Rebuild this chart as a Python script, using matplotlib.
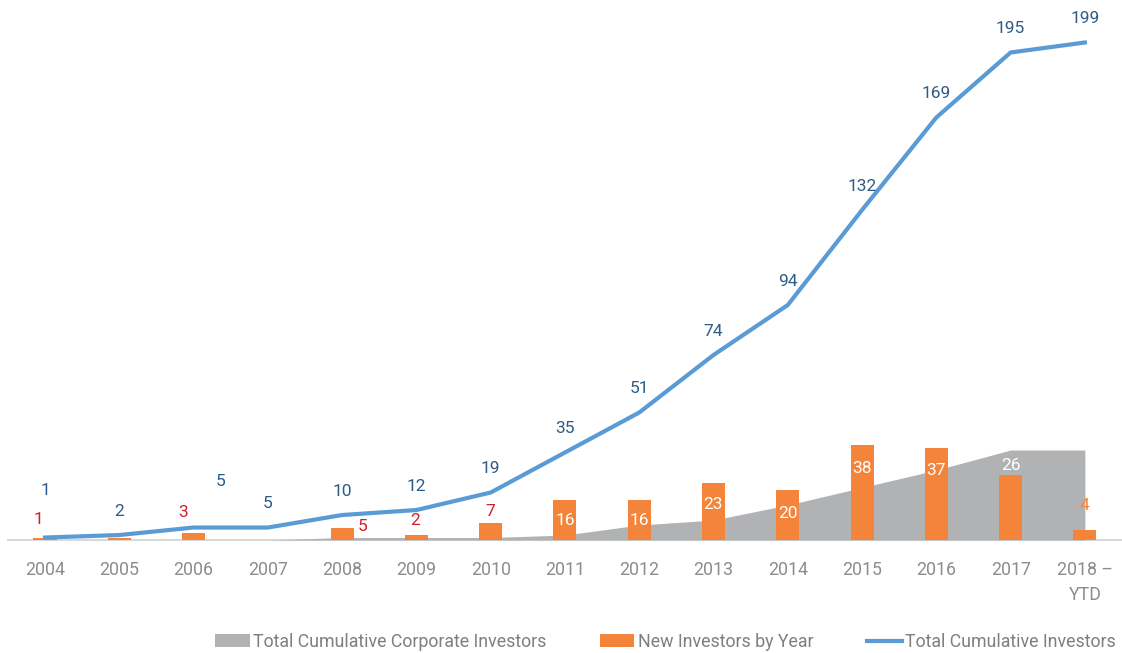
import matplotlib
matplotlib.use("Agg")
import matplotlib.pyplot as plt
from matplotlib.patches import Patch
from matplotlib.lines import Line2D
import numpy as np

plt.rcParams["font.family"] = ["Roboto", "DejaVu Sans"]

years = ["2004", "2005", "2006", "2007", "2008", "2009", "2010", "2011",
         "2012", "2013", "2014", "2015", "2016", "2017", "2018 –\nYTD"]
total_investors = [1, 2, 5, 5, 10, 12, 19, 35, 51, 74, 94, 132, 169, 195, 199]
new_investors = [1, 1, 3, 0, 5, 2, 7, 16, 16, 23, 20, 38, 37, 26, 4]
corporate_investors = [0, 0, 0, 0, 1, 1, 1, 2, 6, 8, 14, 21, 28, 36, 36]

LINE_C = "#5b9bd5"
BAR_C = "#f4843a"
AREA_C = "#b1b2b4"
LABEL_BLUE = "#2e5b85"
LABEL_RED = "#d0202e"
TICK_C = "#8c8c8c"

x = np.arange(len(years))

fig = plt.figure(figsize=(11.22, 6.53), dpi=100)
ax = fig.add_axes([0.007, 0.173, 0.993, 0.827])

ax.fill_between(x, corporate_investors, color=AREA_C, lw=0, zorder=1)
ax.bar(x, new_investors, width=0.31, color=BAR_C, zorder=2)
ax.plot(x, total_investors, color=LINE_C, lw=3, zorder=3,
        solid_joinstyle="miter")

PX = 0.72  # points per pixel at 100 dpi

# line labels sit ~24px above each point, two are moved up out of the way
line_offsets = {0: (0, 47), 2: (27, 46)}
for i, v in enumerate(total_investors):
    dx, dy = line_offsets.get(i, (0, 24))
    ax.annotate(str(v), (i, v), xytext=(dx * PX, dy * PX),
                textcoords="offset points", ha="center", va="center",
                color=LABEL_BLUE, fontsize=12.5, zorder=4)

# bar labels: (dx px, dy px from bar top, colour); None = unlabelled
bar_styles = [
    (-7, 18, LABEL_RED), None, (-10, 20, LABEL_RED), None,
    (20, 1, LABEL_RED), (-1, 15, LABEL_RED), (0, 11, LABEL_RED),
    (0, -20, "white"), (0, -20, "white"), (0, -22, "white"),
    (0, -23, "white"), (0, -23, "white"), (0, -23, "white"),
    (0, 10, "white"), (0, 25, BAR_C),
]
for i, v in enumerate(new_investors):
    st = bar_styles[i]
    if st is None:
        continue
    dx, dy, c = st
    ax.annotate(str(v), (i, v), xytext=(dx * PX, dy * PX),
                textcoords="offset points", ha="center", va="center",
                color=c, fontsize=12.5, zorder=4)

ax.set_xlim(-0.5, len(years) - 0.5)
ax.set_ylim(0, 216)
ax.set_yticks([])
ax.set_xticks(x)
ax.set_xticklabels(years, color=TICK_C, fontsize=12.8, linespacing=1.5)
ax.tick_params(axis="x", length=0, pad=15)
for side in ["left", "right", "top"]:
    ax.spines[side].set_visible(False)
ax.spines["bottom"].set_color("#d9d9d9")
ax.spines["bottom"].set_linewidth(1.5)
ax.spines["bottom"].set_zorder(0)

handles = [
    Patch(facecolor=AREA_C, edgecolor="none", label="Total Cumulative Corporate Investors"),
    Patch(facecolor=BAR_C, edgecolor="none", label="New Investors by Year"),
    Line2D([0], [0], color=LINE_C, lw=3, label="Total Cumulative Investors"),
]
leg = fig.legend(handles=handles, loc="center", bbox_to_anchor=(0.593, 0.017),
                 ncol=3, frameon=False, fontsize=12.8, handlelength=1.95,
                 handleheight=0.7, handletextpad=0.2, columnspacing=3.0)
for t in leg.get_texts():
    t.set_color("#7f7f7f")

fig.savefig("out.png", dpi=100)
